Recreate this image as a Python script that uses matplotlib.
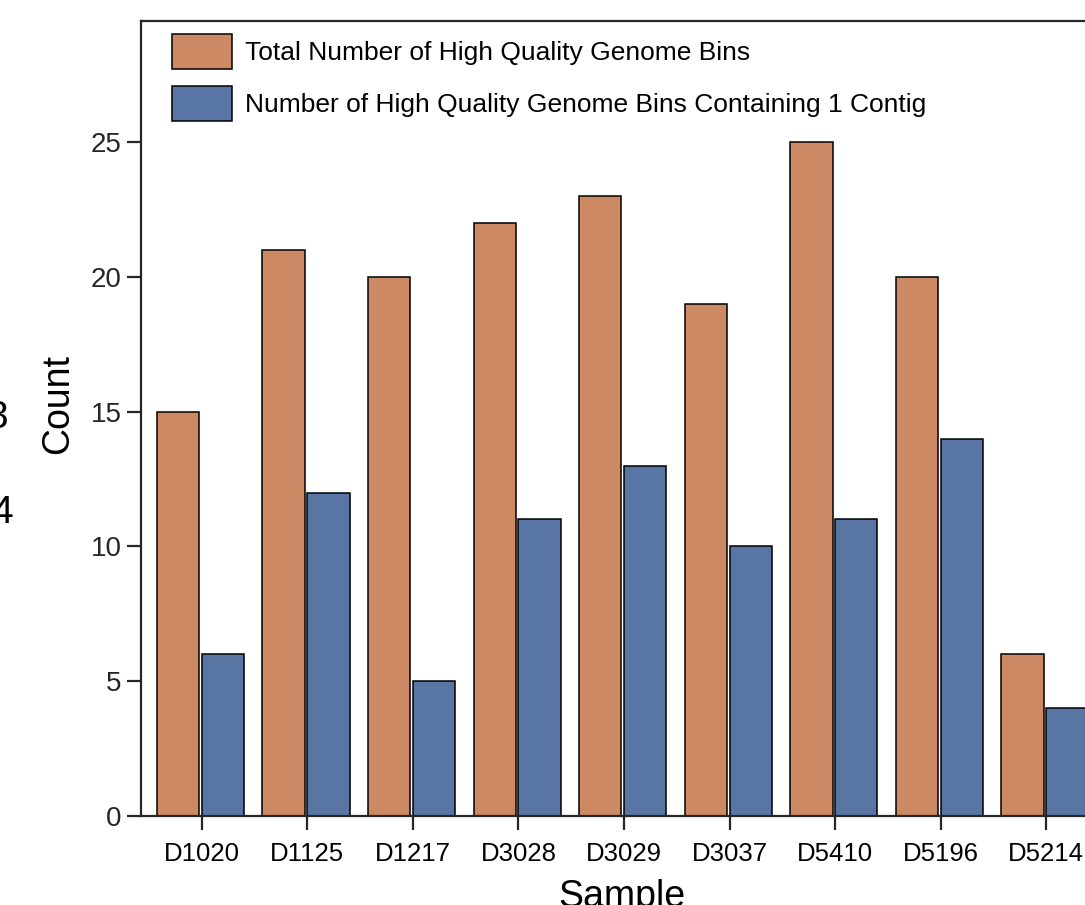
import numpy as np
import matplotlib.pyplot as plt
from matplotlib.patches import Patch

plt.rcParams['font.family'] = ['Liberation Sans', 'DejaVu Sans']

samples = ["D1020", "D1125", "D1217", "D3028", "D3029", "D3037", "D5410", "D5196", "D5214"]
total_bins = [15, 21, 20, 22, 23, 19, 25, 20, 6]
single_contig_bins = [6, 12, 5, 11, 13, 10, 11, 14, 4]
series_labels = ["Total Number of High Quality Genome Bins",
                 "Number of High Quality Genome Bins Containing 1 Contig"]

orange = "#CD8963"
blue = "#5875A4"
dark = "#262626"

W, H = 1085, 905
fig = plt.figure(figsize=(W / 100, H / 100), dpi=100)

# axes extends past the right edge of the figure
ax_left, ax_bottom = 141 / W, 1 - 816 / H
ax = fig.add_axes([ax_left, ax_bottom, 966 / W, 795 / H])

x = np.arange(len(samples))
ax.bar(x - 0.225, total_bins, width=0.4, color=orange, edgecolor="black", linewidth=1.1)
ax.bar(x + 0.2, single_contig_bins, width=0.4, color=blue, edgecolor="black", linewidth=1.1)

ax.set_xlim(-0.575, 8.575)
ax.set_ylim(0, 29.49)
ax.set_xticks(x)
ax.set_xticklabels(samples, fontsize=18.5, color="black")
ax.set_yticks([0, 5, 10, 15, 20, 25])
ax.tick_params(axis="y", labelsize=20, colors=dark, length=10, width=1.6, pad=4)
ax.tick_params(axis="x", colors=dark, labelcolor="black", length=10, width=1.6, pad=9)
for s in ax.spines.values():
    s.set_color(dark)
    s.set_linewidth(1.6)

fig.text(76 / W, 1 - 404 / H, "Count", rotation=90, ha="right", va="center", fontsize=27)
fig.text(622 / W, 1 - 907 / H, "Sample", ha="center", va="baseline", fontsize=27)

# labels belonging to the neighbouring panel
fig.text(8 / W, 1 - 428 / H, "3", ha="right", va="baseline", fontsize=28)
fig.text(13 / W, 1 - 523 / H, "4", ha="right", va="baseline", fontsize=28)

handles = [Patch(facecolor=orange, edgecolor="black", linewidth=1.1),
           Patch(facecolor=blue, edgecolor="black", linewidth=1.1)]
fs = 19
fs_px = fs * 100 / 72
fig.legend(handles, series_labels, loc="upper left",
           bbox_to_anchor=(172 / W, 1 - 34 / H), bbox_transform=fig.transFigure,
           frameon=False, fontsize=fs, borderpad=0, borderaxespad=0,
           handlelength=60 / fs_px, handleheight=44 / fs_px,
           labelspacing=17 / fs_px, handletextpad=13 / fs_px)

fig.savefig("out.png", dpi=100)
